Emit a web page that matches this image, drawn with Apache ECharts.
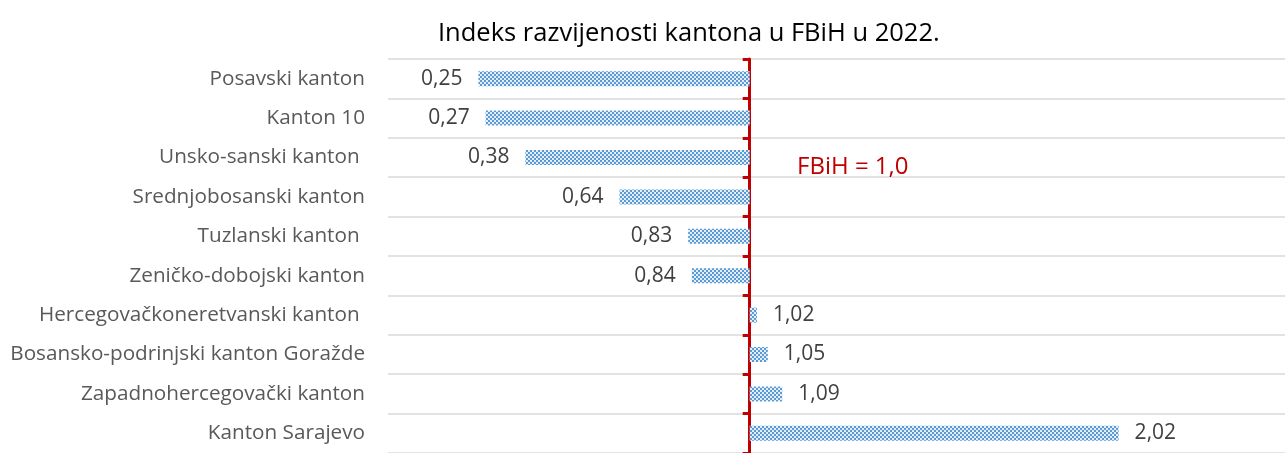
<!DOCTYPE html>
<html>
<head>
<meta charset="utf-8">
<script src="https://cdn.jsdelivr.net/npm/echarts@6/dist/echarts.min.js"></script>
<style>
  html, body { margin: 0; padding: 0; background: #fff; }
  #chart { width: 1285px; height: 453px; }
</style>
</head>
<body>
<div id="chart"></div>
<script>
// kantoni, odozgo prema dolje
var categories = [
    'Posavski kanton',
    'Kanton 10',
    'Unsko-sanski kanton ',
    'Srednjobosanski kanton',
    'Tuzlanski kanton ',
    'Zeničko-dobojski kanton',
    'Hercegovačkoneretvanski kanton ',
    'Bosansko-podrinjski kanton Goražde',
    'Zapadnohercegovački kanton',
    'Kanton Sarajevo'
];
var values = [0.25, 0.27, 0.38, 0.64, 0.83, 0.84, 1.02, 1.05, 1.09, 2.02];
var baseline = 1.0;   // FBiH = 1,0

// sitni "tačkasti" uzorak kao u Excelu
function makePattern() {
    var c = document.createElement('canvas');
    c.width = 4; c.height = 4;
    var ctx = c.getContext('2d');
    ctx.fillStyle = '#e4eef9';
    ctx.fillRect(0, 0, 4, 4);
    ctx.fillStyle = '#5b9bd5';
    ctx.fillRect(0, 0, 2, 2);
    ctx.fillRect(2, 2, 2, 2);
    return c;
}

var barData = values.map(function (v) {
    return {
        value: +(v - baseline).toFixed(2),
        label: { position: v < baseline ? 'left' : 'right' }
    };
});

var myChart = echarts.init(document.getElementById('chart'));

var option = {
    animation: false,
    title: {
        text: 'Indeks razvijenosti kantona u FBiH u 2022.',
        left: 433,
        top: 16,
        textStyle: {
            fontFamily: 'Open Sans',
            fontWeight: 'normal',
            fontSize: 25.5,
            color: '#000'
        }
    },
    grid: {
        left: 388,
        right: 0,
        top: 59,
        bottom: -2,
        containLabel: false
    },
    xAxis: {
        type: 'value',
        min: -1,
        max: 1.48,
        show: false
    },
    yAxis: [{
        type: 'category',
        data: categories,
        inverse: true,
        axisLine: { show: false, onZero: false },
        axisTick: { show: false },
        axisLabel: {
            margin: 23,
            fontFamily: 'Open Sans',
            fontSize: 20.7,
            color: '#595959'
        },
        splitLine: {
            show: true,
            lineStyle: { color: '#d9d9d9', width: 1.5 }
        }
    }, {
        type: 'category',
        data: categories,
        inverse: true,
        position: 'left',
        axisLine: {
            show: true,
            onZero: true,
            lineStyle: { color: '#c00000', width: 3 }
        },
        axisTick: {
            show: true,
            length: 7,
            lineStyle: { color: '#c00000', width: 3 }
        },
        axisLabel: { show: false },
        splitLine: { show: false }
    }],
    series: [{
        type: 'bar',
        yAxisIndex: 0,
        data: barData,
        barWidth: 15,
        itemStyle: {
            color: { image: makePattern(), repeat: 'repeat' }
        },
        label: {
            show: true,
            distance: 16,
            fontFamily: 'Open Sans',
            fontSize: 21,
            color: '#404040',
            formatter: function (p) {
                return values[p.dataIndex].toFixed(2).replace('.', ',');
            }
        }
    }],
    graphic: [{
        type: 'text',
        left: 797,
        top: 155,
        z: 100,
        style: {
            text: 'FBiH = 1,0',
            fontFamily: 'Open Sans',
            fontSize: 24,
            fill: '#c00000'
        }
    }]
};

myChart.setOption(option);
window.addEventListener('resize', function () {
    myChart.resize();
});
</script>
</body>
</html>
